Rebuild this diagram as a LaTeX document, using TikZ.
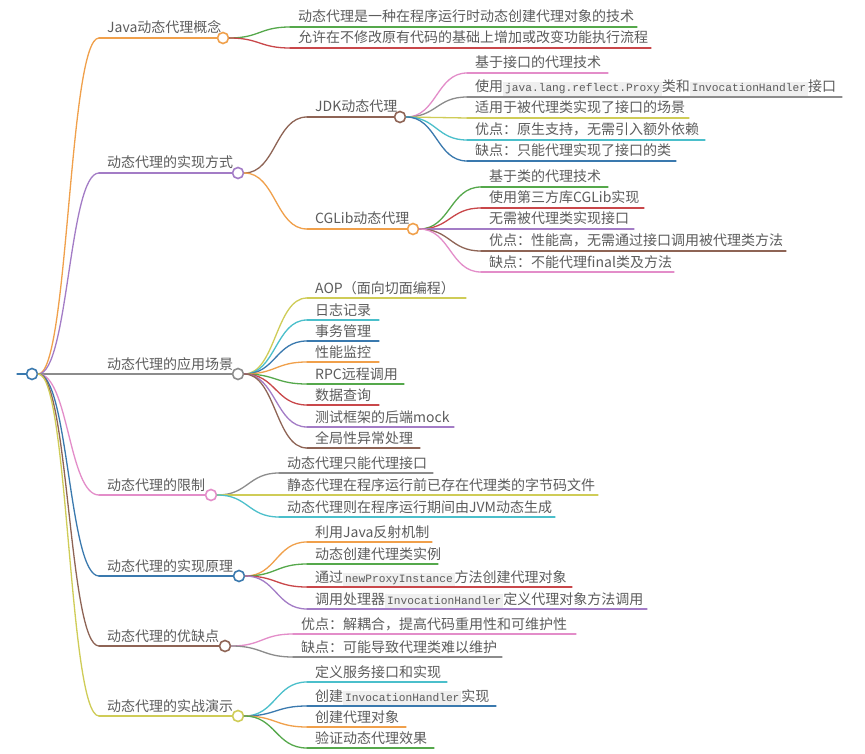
\documentclass[tikz,border=0pt]{standalone}
\usepackage{fontspec}
\setmainfont{Noto Sans CJK SC}
\setmonofont{Liberation Mono}
\usetikzlibrary{calc}
\definecolor{cOrange}{HTML}{F0A04B}
\definecolor{cPurple}{HTML}{A37CC6}
\definecolor{cBrown}{HTML}{8E6455}
\definecolor{cGray}{HTML}{8C8C8C}
\definecolor{cPink}{HTML}{E38DC9}
\definecolor{cBlue}{HTML}{3A79AE}
\definecolor{cOlive}{HTML}{CFCC57}
\definecolor{cGreen}{HTML}{55A84B}
\definecolor{cRed}{HTML}{C9474A}
\definecolor{cCyan}{HTML}{4BBFCB}
\definecolor{txtgray}{HTML}{5C5C5C}
\definecolor{codebg}{HTML}{EFEFEF}
\newcommand\code[1]{{\setlength\fboxsep{2pt}\colorbox{codebg}{\fontsize{11.2}{12}\selectfont\ttfamily\vphantom{Ay}#1}}}
\tikzset{
 edge/.style={line width=1.3pt, line cap=round},
 txt/.style={anchor=base west, inner sep=0pt, text=txtgray, font=\fontsize{14}{14}\selectfont},
 hub/.style={circle, fill=white, line width=1.6pt, minimum size=11pt, inner sep=0pt},
}
\newcommand\mmconn[3]{\draw[edge,#3] let \p1=(#1.east), \p2=(#2) in (\p1) .. controls ({(\x1+\x2)/2},\y1) and ({(\x1+\x2)/2},\y2) .. (\p2);}
\newcommand\mmhub[7]{%
  \coordinate (#2s) at (#5,#4);
  \node[txt] (#2) at (#5+8,#4-5) {#7};
  \mmconn{#1}{#2s}{#3}
  \node[hub,draw=#3] (#2c) at (#6,#4) {};
  \draw[edge,#3] (#2s) -- (#2c.west);
}
\newcommand\mmleaf[7]{%
  \coordinate (#2s) at (#5,#4);
  \coordinate (#2e) at (#6,#4);
  \node[txt] (#2) at (#5+8,#4-5) {#7};
  \mmconn{#1}{#2s}{#3}
  \draw[edge,#3] (#2s) -- (#2e);
}
\begin{document}
\begin{tikzpicture}[x=1pt,y=-1pt]
\useasboundingbox[fill=white] (0,0) rectangle (865,754);
% root
\coordinate (stub) at (17,374);
\node[hub,draw=cBlue] (rootc) at (32,374) {};
\draw[edge,cBlue] (stub) -- (rootc.west);
% main branches
\mmhub{rootc}{java}{cOrange}{38}{99}{223}{Java动态代理概念}
\mmhub{rootc}{impl}{cPurple}{173}{99}{238}{动态代理的实现方式}
\mmhub{rootc}{app}{cGray}{374}{99}{238}{动态代理的应用场景}
\mmhub{rootc}{lim}{cPink}{495}{99}{211}{动态代理的限制}
\mmhub{rootc}{prin}{cBlue}{576}{99}{239}{动态代理的实现原理}
\mmhub{rootc}{pc}{cBrown}{646}{99}{225}{动态代理的优缺点}
\mmhub{rootc}{demo}{cOlive}{716}{99}{238}{动态代理的实战演示}
% concept
\mmleaf{javac}{j1}{cGreen}{27}{290}{637}{动态代理是一种在程序运行时动态创建代理对象的技术}
\mmleaf{javac}{j2}{cRed}{48}{290}{651}{允许在不修改原有代码的基础上增加或改变功能执行流程}
% implementation
\mmhub{implc}{jdk}{cBrown}{117}{307}{400}{JDK动态代理}
\mmhub{implc}{cglib}{cOrange}{229}{307}{413}{CGLib动态代理}
\mmleaf{jdkc}{k1}{cPink}{73}{467}{608}{基于接口的代理技术}
\mmleaf{jdkc}{k2}{cGray}{97}{467}{842}{使用\code{java.lang.reflect.Proxy}类和\code{InvocationHandler}接口}
\mmleaf{jdkc}{k3}{cOlive}{118}{467}{689}{适用于被代理类实现了接口的场景}
\mmleaf{jdkc}{k4}{cCyan}{140}{467}{705}{优点：原生支持，无需引入额外依赖}
\mmleaf{jdkc}{k5}{cBlue}{161}{467}{676}{缺点：只能代理实现了接口的类}
\mmleaf{cglibc}{g1}{cGreen}{187}{481}{608}{基于类的代理技术}
\mmleaf{cglibc}{g2}{cRed}{208}{481}{644}{使用第三方库CGLib实现}
\mmleaf{cglibc}{g3}{cPurple}{229}{481}{634}{无需被代理类实现接口}
\mmleaf{cglibc}{g4}{cBrown}{251}{481}{786}{优点：性能高，无需通过接口调用被代理类方法}
\mmleaf{cglibc}{g5}{cPink}{272}{481}{674}{缺点：不能代理final类及方法}
% applications
\mmleaf{appc}{a1}{cOlive}{298}{307}{466}{AOP（面向切面编程）}
\mmleaf{appc}{a2}{cCyan}{320}{307}{379}{日志记录}
\mmleaf{appc}{a3}{cBlue}{341}{307}{379}{事务管理}
\mmleaf{appc}{a4}{cOrange}{362}{307}{379}{性能监控}
\mmleaf{appc}{a5}{cGreen}{384}{307}{404}{RPC远程调用}
\mmleaf{appc}{a6}{cRed}{405}{307}{379}{数据查询}
\mmleaf{appc}{a7}{cPurple}{427}{307}{454}{测试框架的后端mock}
\mmleaf{appc}{a8}{cBrown}{448}{307}{420}{全局性异常处理}
% limits
\mmleaf{limc}{l1}{cGray}{473}{279}{433}{动态代理只能代理接口}
\mmleaf{limc}{l2}{cOlive}{495}{279}{598}{静态代理在程序运行前已存在代理类的字节码文件}
\mmleaf{limc}{l3}{cCyan}{517}{279}{555}{动态代理则在程序运行期间由JVM动态生成}
% principle
\mmleaf{princ}{p1}{cOrange}{542}{307}{432}{利用Java反射机制}
\mmleaf{princ}{p2}{cGreen}{564}{307}{438}{动态创建代理类实例}
\mmleaf{princ}{p3}{cRed}{587}{307}{572}{通过\code{newProxyInstance}方法创建代理对象}
\mmleaf{princ}{p4}{cPurple}{609}{307}{647}{调用处理器\code{InvocationHandler}定义代理对象方法调用}
% pros and cons
\mmleaf{pcc}{c1}{cPink}{634}{293}{576}{优点：解耦合，提高代码重用性和可维护性}
\mmleaf{pcc}{c2}{cGray}{657}{293}{502}{缺点：可能导致代理类难以维护}
% demo
\mmleaf{democ}{d1}{cCyan}{682}{307}{447}{定义服务接口和实现}
\mmleaf{democ}{d2}{cBlue}{706}{307}{496}{创建\code{InvocationHandler}实现}
\mmleaf{democ}{d3}{cOrange}{727}{307}{406}{创建代理对象}
\mmleaf{democ}{d4}{cGreen}{748}{307}{434}{验证动态代理效果}
\end{tikzpicture}
\end{document}
